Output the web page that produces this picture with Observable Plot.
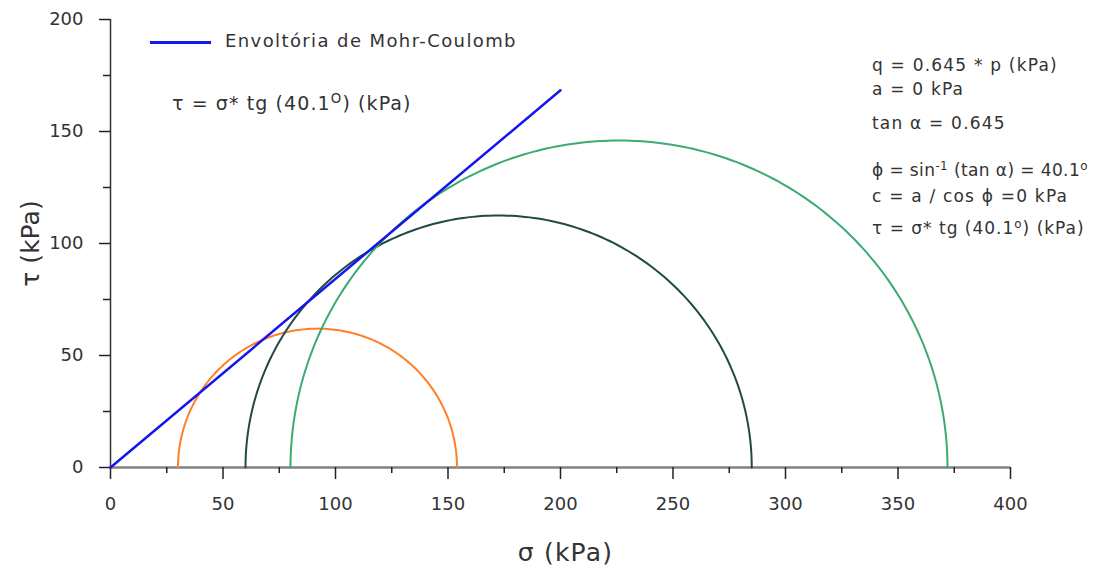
<!DOCTYPE html>
<html><head><meta charset="utf-8">
<script src="https://cdn.jsdelivr.net/npm/d3@7"></script>
<script src="https://cdn.jsdelivr.net/npm/@observablehq/plot@0.6"></script>
<style>
body{margin:0;background:#fff;}
#wrap{position:relative;width:1099px;height:569px;font-family:"DejaVu Sans",sans-serif;color:#333;}
.t{position:absolute;white-space:nowrap;line-height:1;}
.t sup{font-size:0.7em;vertical-align:0.5em;line-height:0;}
#legline{position:absolute;left:150px;top:41px;width:61px;height:2.5px;background:#1515ee;}
</style></head><body><div id="wrap"></div>
<script>
// Mohr circles (σ3, σ1) in kPa
const circleNames = ["Ensaio 1", "Ensaio 2", "Ensaio 3"];
const sigma3 = [30, 60, 80];
const sigma1 = [154, 285, 372];
const circleColors = ["#ff7f2a", "#1f4a48", "#3caa72"];
// Mohr-Coulomb envelope
const phiDeg = 40.1;
const envelopeSigma = [0, 200];
const envelopeColor = "#1515ee";
// ticks
const xTicks = [0, 50, 100, 150, 200, 250, 300, 350, 400];
const xMinor = [25, 75, 125, 175, 225, 275, 325, 375];
const yTicks = [0, 50, 100, 150, 200];
const yMinor = [25, 75, 125, 175];

const circles = circleNames.map((name, i) => {
  const c = (sigma1[i] + sigma3[i]) / 2, r = (sigma1[i] - sigma3[i]) / 2;
  return d3.range(0, 181).map(k => {
    const a = Math.PI - k * Math.PI / 180;
    return {name, s: c + r * Math.cos(a), t: r * Math.sin(a)};
  });
});
const tanPhi = Math.tan(phiDeg * Math.PI / 180);
const envelope = envelopeSigma.map(s => ({s, t: s * tanPhi}));

const plot = Plot.plot({
  width: 1099, height: 569,
  marginLeft: 110, marginRight: 89, marginTop: 19, marginBottom: 102,
  x: {domain: [0, 400]},
  y: {domain: [0, 200]},
  style: {fontFamily: "DejaVu Sans, sans-serif", fontSize: "17px", color: "#333", background: "white", overflow: "visible"},
  marks: [
    Plot.ruleY([0], {stroke: "#808080", strokeWidth: 2.5}),
    Plot.ruleX([0], {stroke: "#333", strokeWidth: 1.5}),
    Plot.axisX(xTicks, {tickSize: 12, tickPadding: 18, fontSize: 18, stroke: "#222", strokeWidth: 1.5, fill: "#333", label: null}),
    Plot.axisX(xMinor, {tickSize: 6, tickFormat: () => "", stroke: "#222", strokeWidth: 1.5, label: null}),
    Plot.axisY(yTicks, {tickSize: 11, tickPadding: 16, fontSize: 18, stroke: "#222", strokeWidth: 1.5, fill: "#333", label: null}),
    Plot.axisY(yMinor, {tickSize: 7, tickFormat: () => "", stroke: "#222", strokeWidth: 1.5, label: null}),
    ...circles.map((pts, i) => Plot.line(pts, {x: "s", y: "t", stroke: circleColors[i], strokeWidth: 2})),
    Plot.line(envelope, {x: "s", y: "t", stroke: envelopeColor, strokeWidth: 2.5}),
    Plot.text(["σ (kPa)"], {text: d => d, frameAnchor: "bottom", textAnchor: "middle", lineAnchor: "middle", dx: 5, dy: 85, fontSize: 25, fill: "#333"}),
    Plot.text(["τ (kPa)"], {text: d => d, frameAnchor: "left", textAnchor: "middle", lineAnchor: "middle", dx: -80, rotate: -90, fontSize: 25, fill: "#333"})
  ]
});
const wrap = document.getElementById("wrap");
wrap.appendChild(plot);
plot.querySelectorAll("text").forEach(t => {
  if (t.textContent === "σ (kPa)") t.setAttribute("letter-spacing", "1.2");
});

const notes = [
  {html: "Envoltória de Mohr-Coulomb", x: 225, y: 42, size: 18, ls: 1.4},
  {html: "τ = σ* tg (40.1<sup>O</sup>) (kPa)", x: 172, y: 104, size: 19, ls: 1.1},
  {html: "q = 0.645 * p (kPa)", x: 872, y: 66, size: 17, ls: 1.2},
  {html: "a = 0 kPa", x: 872, y: 90, size: 17, ls: 1.2},
  {html: "tan α = 0.645", x: 872, y: 124, size: 17, ls: 1.2},
  {html: "ϕ = sin<sup>-1</sup> (tan α) = 40.1<sup>o</sup>", x: 872, y: 171, size: 17, ls: 0.4},
  {html: "c = a / cos ϕ =0 kPa", x: 872, y: 197, size: 17, ls: 1.2},
  {html: "τ = σ* tg (40.1<sup>o</sup>) (kPa)", x: 872, y: 229, size: 17, ls: 1.0}
];
const leg = document.createElement("div");
leg.id = "legline";
wrap.appendChild(leg);
for (const n of notes) {
  const d = document.createElement("div");
  d.className = "t";
  d.innerHTML = n.html;
  d.style.left = n.x + "px";
  d.style.top = (n.y - n.size * 0.55) + "px";
  d.style.fontSize = n.size + "px";
  d.style.letterSpacing = n.ls + "px";
  wrap.appendChild(d);
}
</script>
</body></html>
